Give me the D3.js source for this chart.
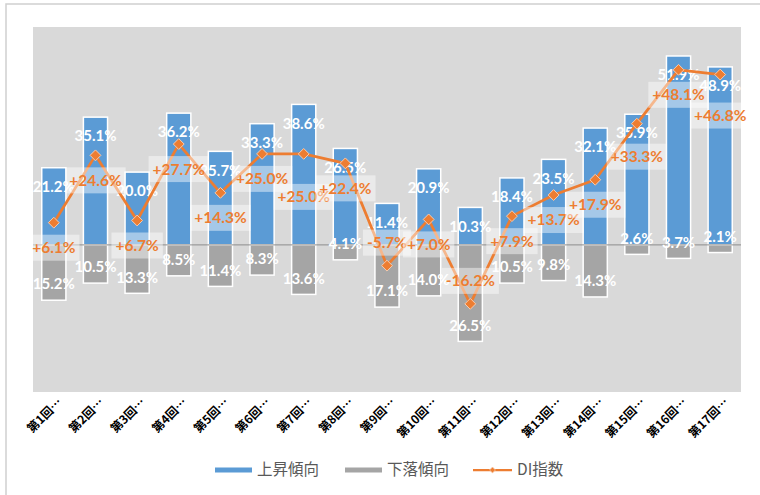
<!DOCTYPE html>
<html>
<head>
<meta charset="utf-8">
<script src="https://cdn.jsdelivr.net/npm/d3@7/dist/d3.min.js"></script>
<style>
  body { margin: 0; background: #fff; }
  svg { display: block; }
</style>
</head>
<body>
<script>
// data
var rounds = ["第1回…", "第2回…", "第3回…", "第4回…", "第5回…", "第6回…", "第7回…", "第8回…", "第9回…",
              "第10回…", "第11回…", "第12回…", "第13回…", "第14回…", "第15回…", "第16回…", "第17回…"]
var upTrend = [21.2, 35.1, 20.0, 36.2, 25.7, 33.3, 38.6, 26.5, 11.4, 20.9, 10.3, 18.4, 23.5, 32.1, 35.9, 51.9, 48.9]
var downTrend = [15.2, 10.5, 13.3, 8.5, 11.4, 8.3, 13.6, 4.1, 17.1, 14.0, 26.5, 10.5, 9.8, 14.3, 2.6, 3.7, 2.1]
var diIndex = [6.1, 24.6, 6.7, 27.7, 14.3, 25.0, 25.0, 22.4, -5.7, 7.0, -16.2, 7.9, 13.7, 17.9, 33.3, 48.1, 46.8]
var seriesNames = ["上昇傾向", "下落傾向", "DI指数"]

var width = 760,
    height = 495;

var blue = "#5b9bd5", grey = "#a5a5a5", orange = "#ed7d31";
var font = "'Noto Sans CJK JP', 'Liberation Sans', sans-serif";
var numFont = "Lato, 'Liberation Sans', sans-serif";

var svg = d3.select("body")
    .append("svg")
    .attr("width", width)
    .attr("height", height);

// chart area border (right/bottom run off the picture)
svg.append("rect")
    .attr("x", 6).attr("y", 4)
    .attr("width", width + 10).attr("height", height + 10)
    .attr("fill", "#fff")
    .attr("stroke", "#cfcfcf")
    .attr("stroke-width", 1.5);

var plot = {left: 33, right: 741, top: 27, bottom: 392};

svg.append("rect")
    .attr("x", plot.left).attr("y", plot.top)
    .attr("width", plot.right - plot.left).attr("height", plot.bottom - plot.top)
    .attr("fill", "#d9d9d9");

var x = d3.scaleBand()
    .domain(rounds)
    .range([plot.left, plot.right])
    .paddingInner(0.42)
    .paddingOuter(0.21);

var y = d3.scaleLinear()
    .domain([-40, 60])
    .range([390.5, 26.5]);

var cx = function(d, i) { return x(rounds[i]) + x.bandwidth() / 2 }

// up bars
svg.append("g")
    .selectAll("rect")
    .data(upTrend)
    .enter().append("rect")
    .attr("x", function(d, i) { return x(rounds[i]) })
    .attr("y", function(d) { return y(d) })
    .attr("width", x.bandwidth())
    .attr("height", function(d) { return y(0) - y(d) })
    .attr("fill", blue)
    .attr("stroke", "#fff")
    .attr("stroke-width", 1.5);

// down bars (drawn below zero)
svg.append("g")
    .selectAll("rect")
    .data(downTrend)
    .enter().append("rect")
    .attr("x", function(d, i) { return x(rounds[i]) })
    .attr("y", y(0))
    .attr("width", x.bandwidth())
    .attr("height", function(d) { return y(-d) - y(0) })
    .attr("fill", grey)
    .attr("stroke", "#fff")
    .attr("stroke-width", 1.5);

// zero line
svg.append("line")
    .attr("x1", plot.left).attr("x2", plot.right)
    .attr("y1", y(0)).attr("y2", y(0))
    .attr("stroke", "#8c8c8c")
    .attr("stroke-width", 1);

// bar labels, inside end
svg.append("g")
    .selectAll("text")
    .data(upTrend)
    .enter().append("text")
    .attr("x", cx)
    .attr("y", function(d) { return y(d) + 19 })
    .attr("dy", "0.35em")
    .attr("text-anchor", "middle")
    .attr("font-family", numFont)
    .attr("font-size", 15)
    .attr("font-weight", "bold")
    .attr("fill", "#fff")
    .text(function(d) { return d.toFixed(1) + "%" });

svg.append("g")
    .selectAll("text")
    .data(downTrend)
    .enter().append("text")
    .attr("x", cx)
    .attr("y", function(d) { return y(-d) - 16 })
    .attr("dy", "0.35em")
    .attr("text-anchor", "middle")
    .attr("font-family", numFont)
    .attr("font-size", 15)
    .attr("font-weight", "bold")
    .attr("fill", "#fff")
    .text(function(d) { return d.toFixed(1) + "%" });

// DI line
var line = d3.line()
    .x(function(d, i) { return cx(d, i) })
    .y(function(d) { return y(d) });

svg.append("path")
    .datum(diIndex)
    .attr("d", line)
    .attr("fill", "none")
    .attr("stroke", orange)
    .attr("stroke-width", 2.75)
    .attr("stroke-linejoin", "round");

var diamond = d3.symbol().type(d3.symbolDiamond2).size(75);

svg.append("g")
    .selectAll("path")
    .data(diIndex)
    .enter().append("path")
    .attr("transform", function(d, i) { return "translate(" + cx(d, i) + "," + y(d) + ")" })
    .attr("d", diamond)
    .attr("fill", orange)
    .attr("stroke", "#f8cbad")
    .attr("stroke-width", 1);

// DI labels: below the point if positive, above if negative; a few moved by hand like the original
var nudge = {6: 18, 14: 8, 16: 16};
var labelY = function(d, i) {
    return y(d) + (d >= 0 ? 25 : -23) + (nudge[i] || 0);
};

var diLabels = svg.append("g")
    .selectAll("g")
    .data(diIndex)
    .enter().append("g")
    .attr("transform", function(d, i) { return "translate(" + cx(d, i) + "," + labelY(d, i) + ")" });

diLabels.append("rect")
    .attr("fill", "#fff")
    .attr("fill-opacity", 0.45);

diLabels.append("text")
    .attr("dy", "0.35em")
    .attr("text-anchor", "middle")
    .attr("font-family", numFont)
    .attr("font-size", 15.5)
    .attr("font-weight", "bold")
    .attr("fill", orange)
    .text(function(d) { return (d >= 0 ? "+" : "") + d.toFixed(1) + "%" })
    .each(function() {
        var w = this.getComputedTextLength() + 8;
        d3.select(this.parentNode).select("rect")
            .attr("x", -w / 2).attr("y", -13)
            .attr("width", w).attr("height", 26);
    });

// category labels, rotated
svg.append("g")
    .selectAll("text")
    .data(rounds)
    .enter().append("text")
    .attr("transform", function(d) {
        return "translate(" + (x(d) + x.bandwidth() / 2 + 9) + ",403) rotate(-45)";
    })
    .attr("text-anchor", "end")
    .attr("font-family", font)
    .attr("font-size", 12)
    .attr("font-weight", "bold")
    .attr("fill", "#000")
    .text(function(d) { return d });

// legend
var legend = svg.append("g").attr("transform", "translate(0,470)");
var legendItems = [
    {name: seriesNames[0], color: blue, x: 215, w: 37, thick: 5},
    {name: seriesNames[1], color: grey, x: 345, w: 37, thick: 5},
    {name: seriesNames[2], color: orange, x: 473, w: 39, thick: 2.25}
];

legendItems.forEach(function(it, k) {
    legend.append("line")
        .attr("x1", it.x).attr("x2", it.x + it.w)
        .attr("y1", 0).attr("y2", 0)
        .attr("stroke", it.color)
        .attr("stroke-width", it.thick);
    if (k === 2) {
        legend.append("path")
            .attr("transform", "translate(" + (it.x + it.w / 2) + ",0)")
            .attr("d", d3.symbol().type(d3.symbolDiamond2).size(22))
            .attr("fill", orange)
            .attr("stroke", "#f8cbad")
            .attr("stroke-width", 0.8);
    }
    legend.append("text")
        .attr("x", it.x + it.w + 5)
        .attr("dy", "0.35em")
        .attr("font-family", font)
        .attr("font-size", 15.5)
        .attr("fill", "#595959")
        .text(it.name);
});
</script>
</body>
</html>
